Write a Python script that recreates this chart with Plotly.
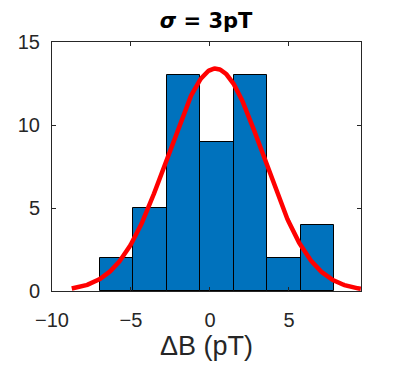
import numpy as np
import plotly.graph_objects as go

# Histogram data
bin_start = -6.97
bin_width = 2.12
counts = [2, 5, 13, 9, 13, 2, 4]

# Normal fit parameters (histfit-style)
fit_mu = 0.35
fit_sigma = 3.03
fit_x_min = -8.75
fit_x_max = 9.55

title_text = "<b><i>σ</i> = 3pT</b>"
x_label = "ΔB (pT)"
x_ticks = [-10, -5, 0, 5]
y_ticks = [0, 5, 10, 15]

centers = [bin_start + bin_width * (i + 0.5) for i in range(len(counts))]
scale = sum(counts) * bin_width
xs = np.linspace(fit_x_min, fit_x_max, 300)
ys = scale / (fit_sigma * np.sqrt(2 * np.pi)) * np.exp(-0.5 * ((xs - fit_mu) / fit_sigma) ** 2)

fig = go.Figure()
fig.add_trace(go.Bar(
    x=centers, y=counts, width=bin_width,
    marker=dict(color="#0072BD", line=dict(color="#000000", width=1)),
    showlegend=False,
))
fig.add_trace(go.Scatter(
    x=xs, y=ys, mode="lines",
    line=dict(color="#FF0000", width=4.5),
    showlegend=False, cliponaxis=False,
))

font_family = "Liberation Sans, Arial, sans-serif"
axis_common = dict(
    showline=True, mirror="ticks", linecolor="#262626", linewidth=1,
    ticks="inside", ticklen=4, tickcolor="#262626", tickwidth=1,
    showgrid=False, zeroline=False, automargin=False,
    tickfont=dict(family=font_family, size=20, color="#262626"),
)

fig.update_layout(
    width=399, height=371,
    margin=dict(l=44, r=46, t=34, b=88),
    paper_bgcolor="white", plot_bgcolor="white",
    bargap=0,
    title=dict(text=title_text, x=0.4965, xanchor="center", y=0.965, yanchor="middle",
               font=dict(family="DejaVu Sans, sans-serif", size=21, color="#000000")),
    xaxis=dict(range=[-10, 9.56], tickvals=x_ticks, ticklabelstandoff=11,
               title=dict(text=x_label, font=dict(family=font_family, size=27, color="#262626"), standoff=2),
               **axis_common),
    yaxis=dict(range=[0, 15], tickvals=y_ticks, ticklabelstandoff=7, **axis_common),
)

fig.write_html("out.html")
